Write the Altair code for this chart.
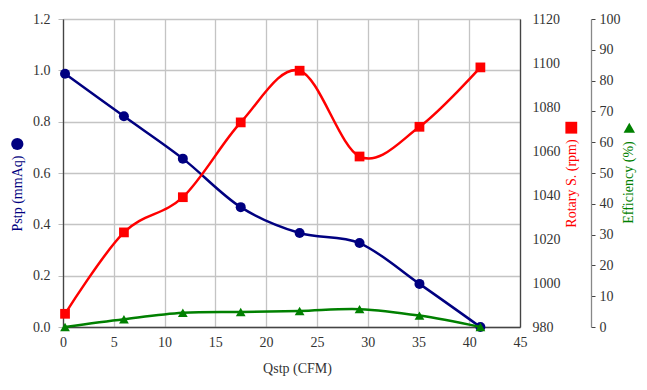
import altair as alt
import pandas as pd

# data
qstp = [0.2, 6.0, 11.8, 17.5, 23.3, 29.2, 35.1, 41.1]
pstp = [0.987, 0.821, 0.656, 0.467, 0.366, 0.327, 0.168, 0.0]
rpm = [986, 1023, 1039, 1073, 1096.5, 1057.5, 1071, 1098]
eff = [0.0, 2.5, 4.6, 4.9, 5.2, 5.8, 3.7, 0.0]

x_ticks = [0, 5, 10, 15, 20, 25, 30, 35, 40, 45]
p_ticks = [0.0, 0.2, 0.4, 0.6, 0.8, 1.0, 1.2]
r_ticks = [980, 1000, 1020, 1040, 1060, 1080, 1100, 1120]
e_ticks = [0, 10, 20, 30, 40, 50, 60, 70, 80, 90, 100]

NAVY = "#000080"
RED = "#ff0000"
GREEN = "#008000"
FONT = "Liberation Serif"
common = dict(labelFont=FONT, titleFont=FONT, labelFontSize=14, titleFontSize=14,
              titleFontWeight="normal", labelColor="#333", labelFlush=False)

df = pd.DataFrame({"q": qstp, "p": pstp, "r": rpm, "e": eff})

X = alt.X("q:Q", scale=alt.Scale(domain=[0, 45], nice=False),
          axis=alt.Axis(values=x_ticks, format="d", title="Qstp (CFM)", grid=True,
                        ticks=False, labelPadding=8, titlePadding=12,
                        titleX=234, domainColor="#444", titleColor="#333",
                        **common))

# Pstp
yp = alt.Y("p:Q", scale=alt.Scale(domain=[0, 1.2], nice=False),
           axis=alt.Axis(values=p_ticks, format=".1f", title="Pstp (mmAq)",
                         orient="left", grid=True, tickSize=5, tickColor="#bbb",
                         labelPadding=8, titleColor=NAVY, titleAngle=270,
                         titleX=-45.5, titleY=174, titleBaseline="middle",
                         titleAlign="center", domainColor="#444", **common))
bp = alt.Chart(df).encode(x=X, y=yp)
blue = bp.mark_line(color=NAVY, strokeWidth=2.5, interpolate="cardinal") + \
    bp.mark_point(color=NAVY, filled=True, opacity=1, shape="circle", size=100)

# Rotary speed
yr = alt.Y("r:Q", scale=alt.Scale(domain=[980, 1120], nice=False),
           axis=alt.Axis(values=r_ticks, format="d", title="Rotary S. (rpm)",
                         orient="right", grid=False, tickSize=0, labelPadding=12,
                         titleColor=RED, titleAngle=270, titleX=51, titleY=164,
                         titleBaseline="middle", titleAlign="center",
                         domainColor="#444", **common))
br = alt.Chart(df).encode(x=X, y=yr)
red = br.mark_line(color=RED, strokeWidth=2.5, interpolate="cardinal") + \
    br.mark_point(color=RED, filled=True, opacity=1, shape="square", size=95)

# Efficiency
ye = alt.Y("e:Q", scale=alt.Scale(domain=[0, 100], nice=False),
           axis=alt.Axis(values=e_ticks, format="d", title="Efficiency (%)",
                         orient="right", offset=71, grid=False, tickSize=4,
                         tickColor="#444", labelPadding=4, titleColor=GREEN,
                         titleAngle=270, titleX=37, titleY=163,
                         titleBaseline="middle", titleAlign="center",
                         domainColor="#888", **common))
be = alt.Chart(df).encode(x=X, y=ye)
green = be.mark_line(color=GREEN, strokeWidth=2.5, interpolate="cardinal") + \
    be.mark_point(color=GREEN, filled=True, opacity=1, shape="triangle-up", size=95)

# series symbols next to the axis titles
sym_df = pd.DataFrame({"k": [0]})
sym_p = alt.Chart(sym_df).mark_point(color=NAVY, filled=True, opacity=1,
                                     shape="circle", size=150).encode(
    x=alt.value(-45.7), y=alt.value(125))
sym_r = alt.Chart(sym_df).mark_point(color=RED, filled=True, opacity=1,
                                     shape="square", size=140).encode(
    x=alt.value(508.3), y=alt.value(108.7))
sym_e = alt.Chart(sym_df).mark_point(color=GREEN, filled=True, opacity=1,
                                     shape="triangle-up", size=130).encode(
    x=alt.value(566.3), y=alt.value(108.7))

chart = alt.layer(blue, red, green, sym_p, sym_r, sym_e).resolve_scale(
    y="independent"
).properties(
    width=457, height=308,
    autosize=alt.AutoSizeParams(type="none"),
    padding={"left": 55, "top": 11, "right": 119, "bottom": 55},
    background="white",
).configure_view(
    stroke="#999", strokeWidth=1
).configure_axis(
    gridColor="#c4c4c4", gridWidth=1.3, domainWidth=1.3
)

chart.save("out.html", embed_options={"renderer": "svg", "actions": False})
